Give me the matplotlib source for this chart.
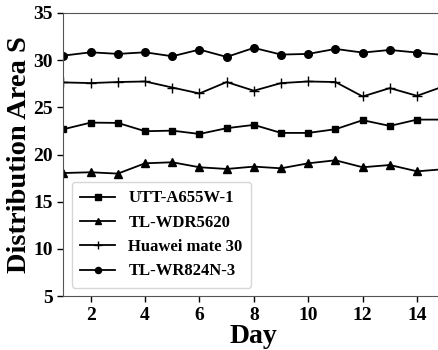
import numpy as np
import matplotlib.pyplot as plt

plt.rcParams['font.family'] = ['Liberation Serif', 'DejaVu Serif']
plt.rcParams['font.weight'] = 'bold'

days = np.arange(1, 16)
utt = [22.68, 23.38, 23.35, 22.47, 22.53, 22.18, 22.79, 23.14, 22.29, 22.29,
       22.68, 23.64, 23.03, 23.70, 23.70]
tl_wdr = [18.04, 18.12, 17.98, 19.07, 19.18, 18.65, 18.47, 18.72, 18.54, 19.07,
          19.39, 18.65, 18.89, 18.22, 18.45]
huawei = [27.64, 27.57, 27.68, 27.74, 27.10, 26.47, 27.68, 26.76, 27.57, 27.74,
          27.68, 26.15, 27.04, 26.22, 27.25]
tl_wr = [30.48, 30.83, 30.66, 30.83, 30.41, 31.12, 30.34, 31.30, 30.59, 30.66,
         31.19, 30.80, 31.08, 30.80, 30.54]

fig = plt.figure(figsize=(4.39, 3.5), dpi=100)
ax = fig.add_axes([0.1446, 0.154, 0.8674, 0.809])

ax.plot(days, utt, '-s', color='black', lw=1.3, ms=5, label='UTT-A655W-1')
ax.plot(days, tl_wdr, '-^', color='black', lw=1.3, ms=5.5, label='TL-WDR5620')
ax.plot(days, huawei, '-+', color='black', lw=1.3, ms=6.5, mew=1, label='Huawei mate 30')
ax.plot(days, tl_wr, '-o', color='black', lw=1.3, ms=5.5, label='TL-WR824N-3')

ax.set_xlim(1, 15)
ax.set_ylim(5, 35)
ax.set_xticks([2, 4, 6, 8, 10, 12, 14])
ax.set_yticks([5, 10, 15, 20, 25, 30, 35])
ax.tick_params(labelsize=14, length=4, width=1)
for lab in ax.get_xticklabels() + ax.get_yticklabels():
    lab.set_fontweight('bold')
ax.set_xlabel('Day', fontsize=20, fontweight='bold', labelpad=0)
ax.set_ylabel('Distribution Area S', fontsize=20.5, fontweight='bold', labelpad=1)
for s in ax.spines.values():
    s.set_color('#555555')

leg = ax.legend(loc='lower left', prop={'weight': 'bold', 'size': 12},
                bbox_to_anchor=(0.0, 0.0), handlelength=2.1, borderpad=0.5,
                labelspacing=0.5, markerscale=0.8)

fig.savefig('out.png', dpi=100)
